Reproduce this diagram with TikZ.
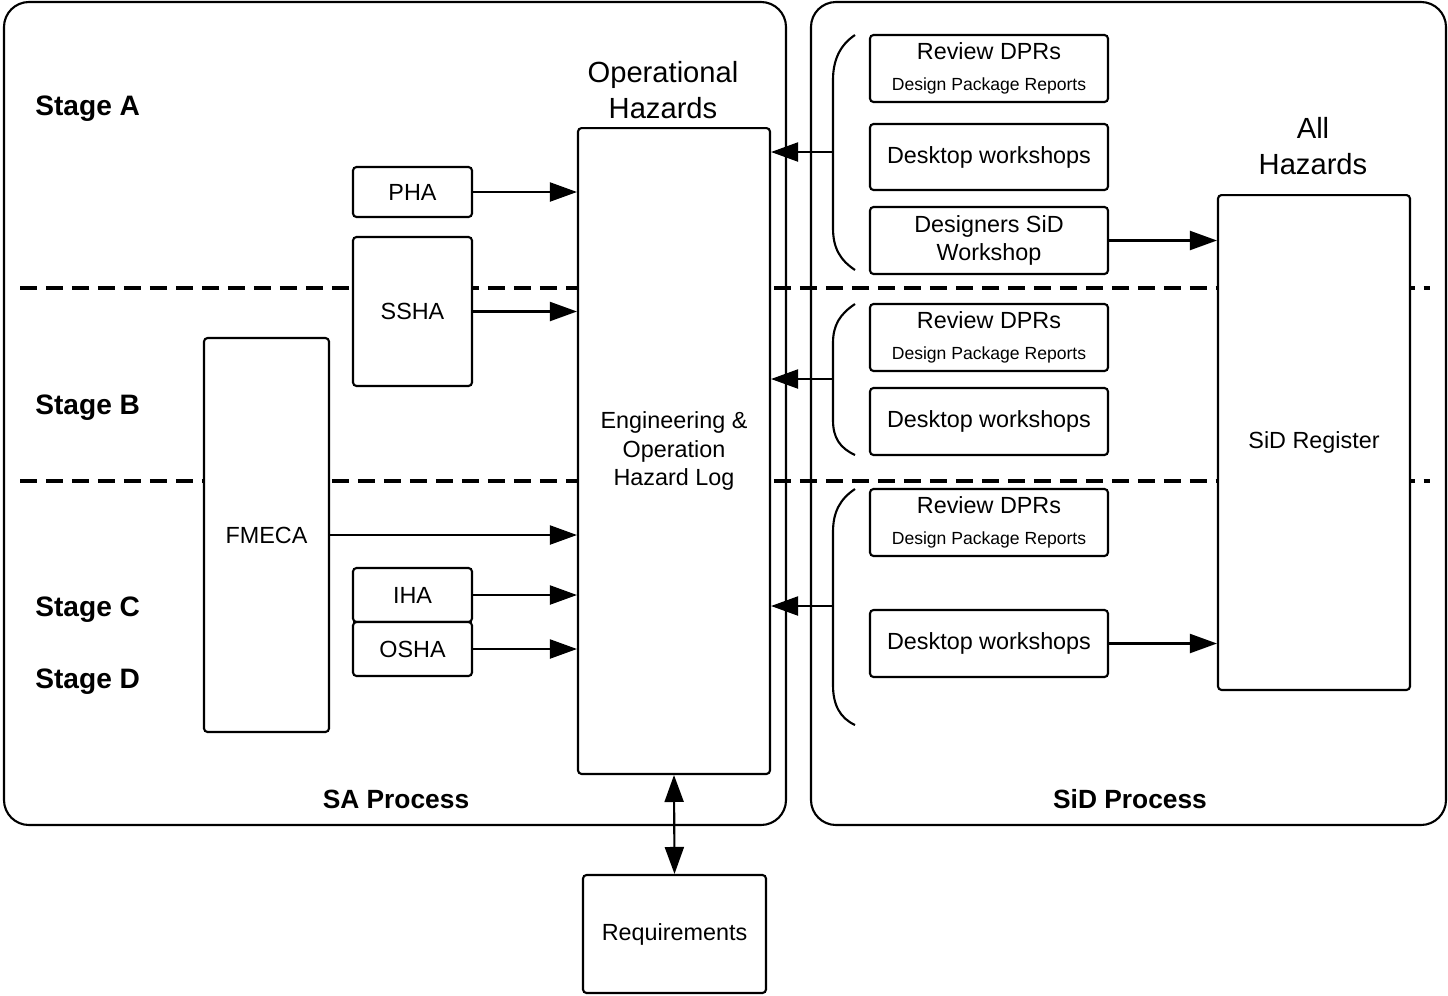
\documentclass[tikz,border=0pt]{standalone}
\usepackage{fontspec}
\setmainfont{Liberation Sans}
\usetikzlibrary{arrows.meta}
\usetikzlibrary{positioning}

\newcommand{\boxfont}{\fontsize{13.3}{16}\selectfont}
\newcommand{\headfont}{\fontsize{16.6}{20.5}\selectfont}
\newcommand{\procfont}{\fontsize{15}{18}\selectfont\bfseries}
\newcommand{\stagefont}{\fontsize{16}{19}\selectfont\bfseries}
\newcommand{\notefont}{\fontsize{10}{12}\selectfont}

\tikzset{
  box/.style={draw, fill=white, rounded corners=2pt, line width=1.2pt, align=center, inner sep=0pt, font=\boxfont},
  arr/.style={line width=1.2pt, -{Triangle[length=0.54cm, width=0.38cm]}},
  twoarr/.style={line width=1.2pt, {Triangle[length=0.54cm, width=0.38cm]}-{Triangle[length=0.54cm, width=0.38cm]}},
  stagedash/.style={line width=2pt, dash pattern=on 0.34cm off 0.18cm},
  procbox/.style={line width=1.2pt, rounded corners=0.5cm},
  brace/.style={line width=1.2pt},
}

\begin{document}
\begin{tikzpicture}[x=0.02cm, y=-0.02cm]
\useasboundingbox (0,0) rectangle (1448,995);

% process frames
\draw[procbox] (4,2) rectangle (786,825);
\draw[procbox] (811,2) rectangle (1446,825);
\node[font=\procfont] (saproc) at (396,799) {SA Process};
\node[font=\procfont] (sidproc) at (1130,799) {SiD Process};

% stage borders
\draw[stagedash] (20,288) -- (1430,288);
\draw[stagedash] (20,481) -- (1430,481);

% stages
\node[font=\stagefont, anchor=west, inner sep=0pt] (stageA) at (35,109) {Stage A};
\node[font=\stagefont, anchor=west, inner sep=0pt] (stageB) at (35,408) {Stage B};
\node[font=\stagefont, anchor=west, inner sep=0pt] (stageC) at (35,610) {Stage C};
\node[font=\stagefont, anchor=west, inner sep=0pt] (stageD) at (35,682) {Stage D};

% SA analyses
\node[box, minimum width=2.38cm, minimum height=1.0cm] (pha) at (412.5,192) {PHA};
\node[box, minimum width=2.38cm, minimum height=2.98cm] (ssha) at (412.5,311.5) {SSHA};
\node[box, minimum width=2.5cm, minimum height=7.88cm] (fmeca) at (266.5,535) {FMECA};
\node[box, minimum width=2.38cm, minimum height=1.08cm] (iha) at (412.5,595) {IHA};
\node[box, minimum width=2.38cm, minimum height=1.08cm] (osha) at (412.5,649) {OSHA};

% hazard log
\node[box, minimum width=3.84cm, minimum height=12.92cm] (eng) at (674,451) {Engineering \&\\Operation\\Hazard Log};
\node[font=\headfont, align=center] (ophaz) at (663,90) {Operational\\Hazards};
\node[box, minimum width=3.66cm, minimum height=2.36cm] (req) at (674.5,934) {Requirements};

% SiD side
\node[box, minimum width=3.84cm, minimum height=9.9cm] (sidreg) at (1314,442.5) {SiD Register};
\node[font=\headfont, align=center] (allhaz) at (1313,146) {All\\Hazards};

\node[box, minimum width=4.76cm, minimum height=1.34cm] (rev1) at (989,68.5) {Review DPRs\\[2pt]{\notefont Design Package Reports}};
\node[box, minimum width=4.76cm, minimum height=1.32cm] (desk1) at (989,157) {Desktop workshops};
\node[box, minimum width=4.76cm, minimum height=1.34cm] (dsw) at (989,240.5) {Designers SiD\\Workshop};
\node[box, minimum width=4.76cm, minimum height=1.34cm] (rev2) at (989,337.5) {Review DPRs\\[2pt]{\notefont Design Package Reports}};
\node[box, minimum width=4.76cm, minimum height=1.34cm] (desk2) at (989,421.5) {Desktop workshops};
\node[box, minimum width=4.76cm, minimum height=1.34cm] (rev3) at (989,522.5) {Review DPRs\\[2pt]{\notefont Design Package Reports}};
\node[box, minimum width=4.76cm, minimum height=1.34cm] (desk3) at (989,643.5) {Desktop workshops};

% brackets round the SiD activities
\draw[brace] (855,35) .. controls (840,45) and (833,60) .. (833,80) -- (833,228) .. controls (833,248) and (840,260) .. (855,270);
\draw[brace] (855,304) .. controls (840,314) and (833,325) .. (833,343) -- (833,420) .. controls (833,438) and (840,448) .. (855,455);
\draw[brace] (855,489) .. controls (840,499) and (833,512) .. (833,532) -- (833,685) .. controls (833,705) and (840,718) .. (855,725);
\coordinate (br1) at (833,152);
\coordinate (br2) at (833,379);
\coordinate (br3) at (833,606);

% connectors
\draw[arr] (pha) -- (pha -| eng.west);
\draw[arr] (ssha) -- (ssha -| eng.west);
\draw[arr] (fmeca) -- (fmeca -| eng.west);
\draw[arr] (iha) -- (iha -| eng.west);
\draw[arr] (osha) -- (osha -| eng.west);
\draw[arr] (br1) -- (br1 -| eng.east);
\draw[arr] (br2) -- (br2 -| eng.east);
\draw[arr] (br3) -- (br3 -| eng.east);
\draw[arr] (dsw) -- (dsw -| sidreg.west);
\draw[arr] (desk3) -- (desk3 -| sidreg.west);
\draw[twoarr] (eng.south) -- (req.north);
\end{tikzpicture}
\end{document}
